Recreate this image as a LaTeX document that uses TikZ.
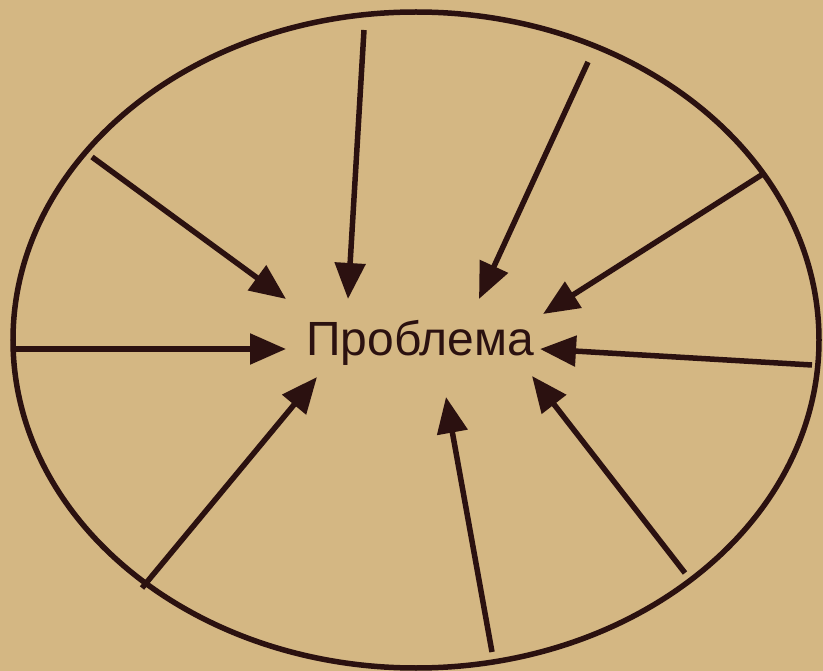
\documentclass[tikz,border=0pt]{standalone}
\usepackage{fontspec}
\setmainfont{Liberation Sans}
\usetikzlibrary{arrows.meta}
\definecolor{bg}{HTML}{D4B783}
\definecolor{ink}{HTML}{2B1110}
\tikzset{
  ray/.style={draw=ink, line width=5.5pt, -{Triangle[length=36pt,width=30pt]}},
  rim/.style={draw=ink, line width=5.5pt}
}
\begin{document}
\begin{tikzpicture}[x=1pt,y=-1pt]
\fill[bg] (0,0) rectangle (823,671);
\useasboundingbox (0,0) rectangle (823,671);
\draw[rim] (416,340) ellipse [x radius=403, y radius=328];
\node[text=ink, font=\fontsize{48}{58}\selectfont, inner sep=0pt] (prob) at (420,343) {Проблема};
\coordinate (s1) at (92,157);  \coordinate (e1) at (286,299);
\coordinate (s2) at (364,30);  \coordinate (e2) at (348,299);
\coordinate (s3) at (588,62);  \coordinate (e3) at (479,299);
\coordinate (s4) at (763,174); \coordinate (e4) at (543,314);
\coordinate (s5) at (812,365); \coordinate (e5) at (540,349);
\coordinate (s6) at (685,573); \coordinate (e6) at (532,376);
\coordinate (s7) at (492,652); \coordinate (e7) at (446,397);
\coordinate (s8) at (142,588); \coordinate (e8) at (317,377);
\coordinate (s9) at (15,349);  \coordinate (e9) at (286,349);
\foreach \i in {1,...,9} {\draw[ray] (s\i) -- (e\i);}
\end{tikzpicture}
\end{document}
